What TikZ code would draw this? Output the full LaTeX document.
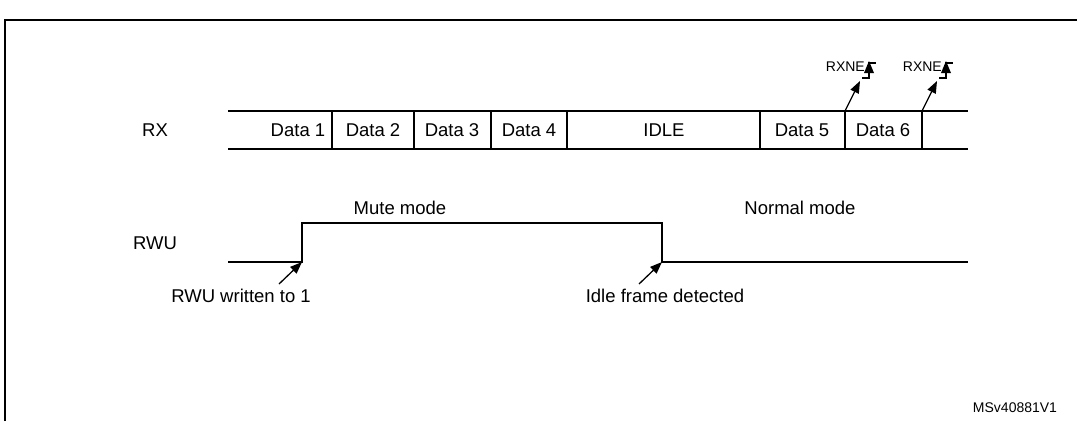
\documentclass[tikz,border=0pt]{standalone}
\usepackage{fontspec}
\setmainfont{Liberation Sans}
\usetikzlibrary{arrows.meta}
\begin{document}
\begin{tikzpicture}[x=1pt,y=-1pt,
  wire/.style={line width=1.3pt},
  lbl/.style={font=\fontsize{18.5}{20}\selectfont,inner sep=0pt},
  ptr/.style={line width=1.3pt,-{Triangle[length=12pt,width=9pt]}},
  small/.style={font=\fontsize{14}{16}\selectfont,inner sep=0pt}]
\useasboundingbox (0,0) rectangle (1077,421);
\draw[line width=1.6pt] (5,421) -- (5,20) -- (1077,20);
% RX bus
\draw[wire] (228,111) -- (968,111) (228,149) -- (968,149);
\foreach \x in {332,414,491,567,760,845,922} \draw[wire] (\x,111) -- (\x,149);
\node[lbl] (rx) at (155,130) {RX};
\node[lbl] (d1) at (298,130) {Data 1};
\node[lbl] (d2) at (373,130) {Data 2};
\node[lbl] (d3) at (452,130) {Data 3};
\node[lbl] (d4) at (529,130) {Data 4};
\node[lbl] (idle) at (664,130) {IDLE};
\node[lbl] (d5) at (802,130) {Data 5};
\node[lbl] (d6) at (883,130) {Data 6};
% RXNE
\coordinate (r1a) at (845,111); \coordinate (r1b) at (860,81);
\coordinate (r2a) at (922,111); \coordinate (r2b) at (937,81);
\draw[ptr] (r1a) -- (r1b);
\draw[ptr] (r2a) -- (r2b);
\node[small,anchor=east] (x1) at (865,67) {RXNE};
\node[small,anchor=east] (x2) at (942,67) {RXNE};
\foreach \s in {0,77}{
  \draw[line width=1.3pt] (862+\s,78) -- (869+\s,78) -- (869+\s,63) -- (876+\s,63);
  \fill (864+\s,73) -- (874+\s,73) -- (869+\s,61) -- cycle;}
% RWU
\node[lbl] (rwu) at (155,243) {RWU};
\coordinate (rise) at (302,262); \coordinate (fall) at (662,262);
\draw[wire] (228,262) -- (rise) -- (302,223) -- (662,223) -- (fall) -- (968,262);
\node[lbl] (mute) at (400,208) {Mute mode};
\node[lbl] (norm) at (800,208) {Normal mode};
\coordinate (a1) at (279,284); \coordinate (a2) at (639,284);
\draw[ptr] (a1) -- (rise);
\draw[ptr] (a2) -- (fall);
\node[lbl] (w1) at (241,296) {RWU written to 1};
\node[lbl] (w2) at (665,296) {Idle frame detected};
\node[small] (ms) at (1015,408) {MSv40881V1};
\end{tikzpicture}
\end{document}
